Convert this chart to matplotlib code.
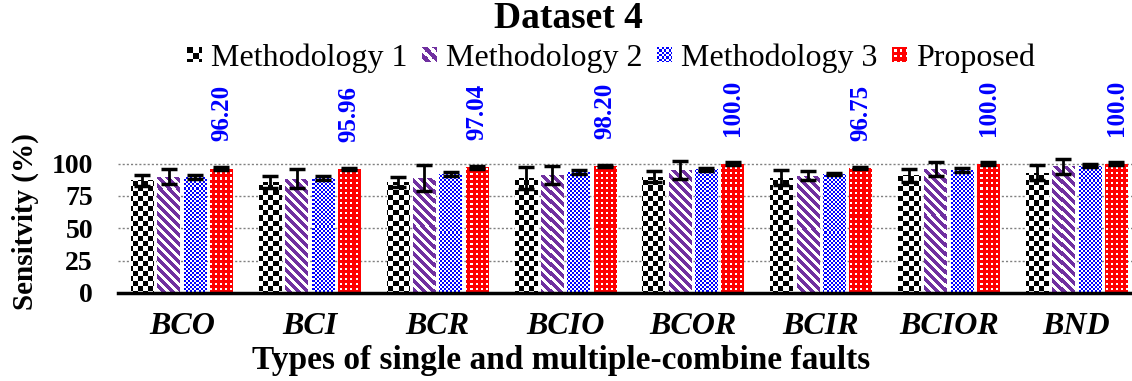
import numpy as np
import matplotlib
matplotlib.use("Agg")
import matplotlib.pyplot as plt
from matplotlib.patches import Patch
from matplotlib.legend_handler import HandlerBase
from matplotlib.image import BboxImage
from matplotlib.transforms import Bbox, TransformedBbox

plt.rcParams['font.family'] = ['Liberation Serif', 'DejaVu Serif']

# dados
categorias = ['BCO', 'BCI', 'BCR', 'BCIO', 'BCOR', 'BCIR', 'BCIOR', 'BND']
series = ['Methodology 1', 'Methodology 2', 'Methodology 3', 'Proposed']
m1 = [87, 86, 86, 89, 90, 89, 91, 93]
m1_err = [4.5, 4.5, 4, 8.4, 4.5, 5.8, 5, 5.8]
m2 = [90, 88.5, 89, 91, 95, 90.5, 96, 98]
m2_err = [5.5, 7.4, 10, 7.1, 7, 3.5, 5.4, 5.8]
m3 = [90, 89, 92, 93.5, 95.5, 92, 95, 98.5]
m3_err = [1.5, 1.5, 1.5, 1.5, 1.5, 1, 1.5, 1]
proposto = [96.20, 95.96, 97.04, 98.20, 100.0, 96.75, 100.0, 100.0]
proposto_err = [1, 1, 1, 1, 1, 1, 1, 1]
rotulos = ['96.20', '95.96', '97.04', '98.20', '100.0', '96.75', '100.0', '100.0']

valores = [m1, m2, m3, proposto]
erros = [m1_err, m2_err, m3_err, proposto_err]
padroes = ['m1', 'm2', 'm3', 'prop']


def make_pattern(kind, h, w):
    # textura em pixels para preencher as barras
    yy, xx = np.mgrid[0:h, 0:w]
    img = np.ones((h, w, 3))
    if kind == 'm1':
        img[((xx // 5 + yy // 5) % 2) == 0] = (0, 0, 0)
    elif kind == 'm2':
        img[((xx - yy) % 9) < 5] = (112 / 255, 48 / 255, 160 / 255)
    elif kind == 'm3':
        img[((xx // 2 + yy // 2) % 2) == 0] = (0, 0, 1)
    else:
        img[:] = (1, 0, 0)
        img[((xx % 5) >= 2) & ((xx % 5) < 4) & ((yy % 5) >= 2) & ((yy % 5) < 4)] = (1, 1, 1)
    return img


class PatternHandler(HandlerBase):
    def __init__(self, kind):
        super().__init__()
        self.kind = kind

    def create_artists(self, legend, orig_handle, xdescent, ydescent, width, height, fontsize, trans):
        lado = min(width, height)
        x0 = -xdescent + (width - lado) / 2
        y0 = -ydescent + (height - lado) / 2
        bb = TransformedBbox(Bbox.from_bounds(x0, y0, lado, lado), trans)
        im = BboxImage(bb, interpolation='nearest')
        im.set_data(make_pattern(self.kind, 13, 13))
        return [im]


W, H = 1132, 381
fig = plt.figure(figsize=(W / 100, H / 100), dpi=100)
ax = fig.add_axes([118 / W, 88 / H, 1022.5 / W, 207 / H])

x = np.arange(len(categorias))
passo = 0.206
largura = 0.176
ylim_top = 160
xlim = (-0.5, len(categorias) - 0.5)

ax_w_px = int(round(1022.5))
ax_h_px = 207

for i, (vals, errs, kind) in enumerate(zip(valores, erros, padroes)):
    pos = x + (i - 1.5) * passo
    barras = ax.bar(pos, vals, width=largura, color='white', linewidth=0, zorder=2)
    textura = make_pattern(kind, ax_h_px, ax_w_px)
    for b in barras:
        im = ax.imshow(textura, extent=(xlim[0], xlim[1], 0, ylim_top), origin='upper',
                       aspect='auto', interpolation='nearest', zorder=2.5)
        im.set_clip_path(b)
    ax.errorbar(pos, vals, yerr=errs, fmt='none', ecolor='black', elinewidth=2,
                capsize=5.5, capthick=2.5, zorder=4)

# rótulos do método proposto
pos_prop = x + 1.5 * passo
for xp, v, r in zip(pos_prop, proposto, rotulos):
    ax.text(xp, v + 21, r, rotation=90, ha='center', va='bottom', color='blue',
            fontsize=18, fontweight='bold')

ax.set_xlim(*xlim)
ax.set_ylim(0, ylim_top)
ax.set_yticks([0, 25, 50, 75, 100])
ax.set_xticks(x)
ax.set_xticklabels(categorias, fontsize=23, fontweight='bold', fontstyle='italic')
ax.tick_params(axis='y', length=0, pad=18, labelsize=20)
ax.tick_params(axis='x', length=0, pad=14)
for lbl in ax.get_yticklabels():
    lbl.set_fontweight('bold')
ax.yaxis.grid(True, linestyle=(0, (1.5, 1.5)), color='gray', linewidth=1)
ax.set_axisbelow(True)
for s in ['top', 'right', 'left']:
    ax.spines[s].set_visible(False)
ax.spines['bottom'].set_linewidth(2.5)
ax.spines['bottom'].set_zorder(5)

fig.text(568 / W, 1 - 18 / H, 'Dataset 4', ha='center', va='center', fontsize=27, fontweight='bold')
fig.text(561 / W, 1 - 361 / H, 'Types of single and multiple-combine faults', ha='center', va='center',
         fontsize=24, fontweight='bold')
fig.text(25 / W, 1 - 222 / H, 'Sensitvity (%)', ha='center', va='center', rotation=90,
         fontsize=21, fontweight='bold')

handles = [Patch(label=s) for s in series]
fig.legend(handles=handles, labels=series, loc='center', bbox_to_anchor=(611 / W, 1 - 58 / H),
           ncol=4, frameon=False, fontsize=23, handlelength=0.45, handletextpad=0.3,
           columnspacing=0.45, borderpad=0,
           handler_map={h: PatternHandler(k) for h, k in zip(handles, padroes)})

fig.savefig('out.png', dpi=100)
